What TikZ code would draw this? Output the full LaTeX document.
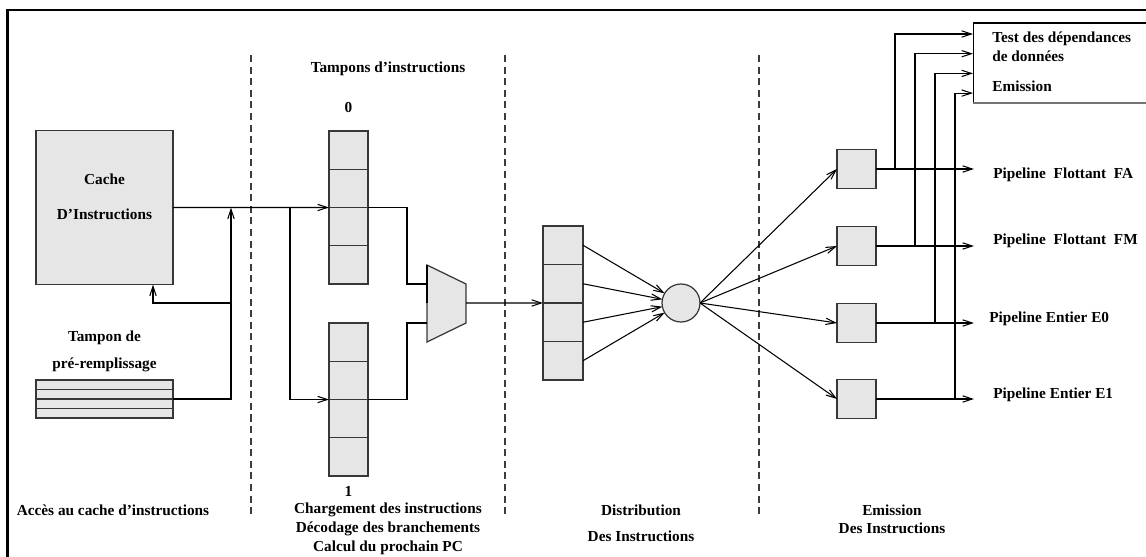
\documentclass[tikz,border=0pt]{standalone}
\usepackage{fontspec}
\setmainfont{Liberation Serif}
\usetikzlibrary{arrows.meta, calc}
\definecolor{BoxFill}{RGB}{230, 230, 230}
\definecolor{EdgeGray}{RGB}{55, 55, 55}
\definecolor{DashGray}{RGB}{60, 60, 60}

\begin{document}
\begin{tikzpicture}[
  x=0.02cm, y=-0.02cm,
  every node/.style={font=\fontsize{8.7pt}{10.8pt}\selectfont\bfseries},
  cell/.style={draw=EdgeGray, fill=BoxFill, line width=0.7pt, inner sep=0pt,
               outer sep=0pt, minimum width=0.78cm, minimum height=0.766cm},
  strip/.style={cell, minimum width=2.74cm, minimum height=0.19cm},
  muxbody/.style={draw=EdgeGray, fill=BoxFill, line width=0.7pt},
  txt/.style={align=center, inner sep=0pt},
  divider/.style={dash pattern=on 4pt off 2.6pt, draw=DashGray, line width=0.7pt},
  wire/.style={line width=0.6pt},
  arr/.style={-{Straight Barb[length=5.5pt, width=3.6pt]}, line width=0.6pt}
]
  \useasboundingbox (0,0) rectangle (1146,557);

  %% Frame and stage separators
  \draw[line width=1.7pt] (1146,10) -- (7.5,10) -- (7.5,557);
  \foreach \x in {251,505,759}
    \draw[divider] (\x,55) -- (\x,515);

  %% Nodes
  \node[cell, minimum width=2.74cm, minimum height=3.08cm] (cache) at (104.5,207.5) {};
  \node[txt] (cachetxt) at (104.5,197) {Cache\\[9pt]D’Instructions};
  \foreach \i in {1,...,4}
    \node[strip] (pref-\i) at (104.5,{380+9.5*(\i-0.5)}) {};
  \foreach \i in {1,...,4}
    \node[cell] (bufA-\i) at (348.5,{131+38.25*(\i-0.5)}) {};
  \foreach \i in {1,...,4}
    \node[cell] (bufB-\i) at (348.5,{323+38.25*(\i-0.5)}) {};
  \foreach \i in {1,...,4}
    \node[cell, minimum width=0.8cm, minimum height=0.77cm] (dist-\i) at (563,{226+38.5*(\i-0.5)}) {};
  \node[cell, circle, minimum size=0.76cm] (circ) at (681,303) {};
  \foreach \i/\y in {1/169, 2/246, 3/323, 4/399} {
    \node[cell] (iss-\i) at (856.5,\y) {};
    \coordinate (out-\i) at (974,\y);
  }
  \node[inner sep=0pt, outer sep=0pt, minimum width=3.46cm, minimum height=1.6cm] (test) at (1059.5,63) {};

  %% Multiplexer
  \draw[muxbody] (427,265) -- (466,284) -- (466,323) -- (427,342) -- cycle;
  \draw[line width=1.3pt] (427,265) -- (427,303);
  \coordinate (muxA)   at (427,284);
  \coordinate (muxB)   at (427,323);
  \coordinate (muxout) at (466,303);

  %% Test box outline
  \draw[wire] (test.north east) -- (test.north west) -- (test.south west);
  \draw[line width=1.1pt, draw=black!55] (test.south west) -- (test.south east);

  %% Arrows
  \coordinate (fork)  at (290,207.5);
  \coordinate (merge) at (231,207.5);
  \coordinate (tap)   at (231,303);
  \draw[arr]  (cache.east)        -- (bufA-2.south west);
  \draw[wire] (bufA-2.south east) -- ++(39,0) |- (muxA);
  \draw[arr]  (fork)              |- (bufB-2.south west);
  \draw[wire] (bufB-2.south east) -- ++(39,0) |- (muxB);
  \draw[arr]  (pref-2.south east) -| (merge);
  \draw[arr]  (tap)               -| ($(cache.south)+(48.5,0)$);
  \draw[arr]  (muxout)            -- (dist-2.south west);
  \foreach \i in {1,...,4} {
    \draw[arr] (dist-\i.east) -- (circ);
    \draw[arr] (circ.east)    -- (iss-\i.west);
    \draw[arr] (iss-\i.east)  -- (out-\i);
    \draw[arr] ($(iss-\i.east)+({20*\i-1},0)$) |- ($(test.north west)+(0,{19.7*\i-8.7})$);
  }

  %% Labels
  \node[txt] (tamp)    at (388,69)      {Tampons d’instructions};
  \node[txt] (lbl0)    at (348.5,107)   {0};
  \node[txt] (lbl1)    at (348.5,491)   {1};
  \node[txt] (preftxt) at (104.5,351.5) {Tampon de\\[4.5pt]pré-remplissage};
  \node[txt, align=left, anchor=west] (testtxt) at (992,62)
    {Test des dépendances\\de données\\[6pt]Emission};
  \node[txt, anchor=base west] (pfa) at (993,179) {Pipeline~~Flottant~~FA};
  \node[txt, anchor=base west] (pfm) at (993,245) {Pipeline~~Flottant~~FM};
  \node[txt, anchor=base west] (pe0) at (989,322) {Pipeline Entier E0};
  \node[txt, anchor=base west] (pe1) at (993,398) {Pipeline Entier E1};
  \node[txt] (stage1) at (113,510) {Accès au cache d’instructions};
  \node[txt] (stage2) at (388,529) {Chargement des instructions\\Décodage des branchements\\Calcul du prochain PC};
  \node[txt] (stage3) at (641,523) {Distribution\\[4pt]Des Instructions};
  \node[txt] (stage4) at (892,519) {Emission\\[-0.6pt]Des Instructions};
\end{tikzpicture}
\end{document}
